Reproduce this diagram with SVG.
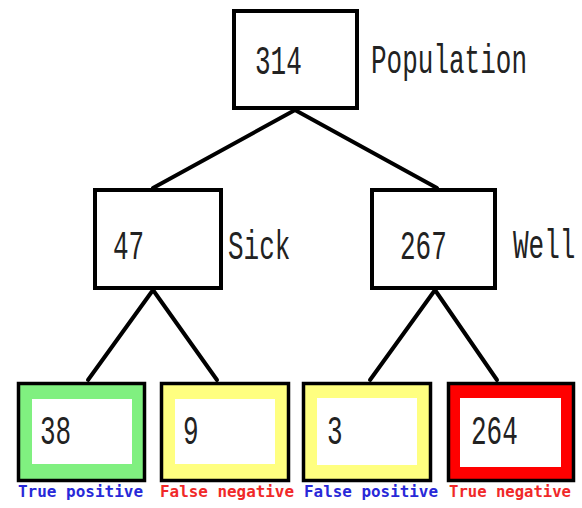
<svg xmlns="http://www.w3.org/2000/svg" width="582" height="508" viewBox="0 0 582 508">
<style>
.box{fill:#fff;stroke:#000;stroke-width:4}
.leaf{stroke:#000;stroke-width:3.5}
.inner{fill:#fff}
.num{font-family:"Liberation Mono","DejaVu Sans Mono",monospace;font-size:26px;fill:#222}
.lab{font-family:"DejaVu Sans Mono","Liberation Mono",monospace;font-size:15px;font-weight:bold}
.edge{stroke:#000;stroke-width:4;fill:none;stroke-linecap:round}
</style>
<rect width="582" height="508" fill="#fff"/>
<g id="connectors">
<line class="edge" x1="295" y1="110" x2="153" y2="188"/>
<line class="edge" x1="295" y1="110" x2="437" y2="188"/>
<line class="edge" x1="153" y1="290" x2="88" y2="380"/>
<line class="edge" x1="153" y1="290" x2="217" y2="380"/>
<line class="edge" x1="435" y1="290" x2="370" y2="380"/>
<line class="edge" x1="435" y1="290" x2="497" y2="380"/>
</g>
<g id="population">
<rect class="box" x="234" y="11" width="123" height="97"/>
<text class="num" transform="translate(255,74) scale(1,1.55)">314</text>
<text class="num" transform="translate(371,73) scale(1,1.55)">Population</text>
</g>
<g id="sick">
<rect class="box" x="95" y="190" width="126" height="98"/>
<text class="num" transform="translate(113,259) scale(1,1.55)">47</text>
<text class="num" transform="translate(228,259) scale(1,1.55)">Sick</text>
</g>
<g id="well">
<rect class="box" x="372" y="190" width="123" height="98"/>
<text class="num" transform="translate(400,259) scale(1,1.55)">267</text>
<text class="num" transform="translate(513,258) scale(1,1.55)">Well</text>
</g>
<g id="true-positive">
<rect class="leaf" x="18.5" y="383.5" width="126" height="97" fill="#80f080"/>
<rect class="inner" x="32" y="399" width="100" height="65"/>
<text class="num" transform="translate(40,444) scale(1,1.55)">38</text>
<text class="lab" x="18" y="497" fill="#2828d8" textLength="125" lengthAdjust="spacingAndGlyphs">True positive</text>
</g>
<g id="false-negative">
<rect class="leaf" x="161.5" y="383.5" width="127" height="97" fill="#ffff80"/>
<rect class="inner" x="175" y="399" width="100" height="65"/>
<text class="num" transform="translate(183,444) scale(1,1.55)">9</text>
<text class="lab" x="160" y="497" fill="#f02828" textLength="134" lengthAdjust="spacingAndGlyphs">False negative</text>
</g>
<g id="false-positive">
<rect class="leaf" x="303.5" y="383.5" width="127" height="97" fill="#ffff80"/>
<rect class="inner" x="317" y="398" width="100" height="67"/>
<text class="num" transform="translate(327,444) scale(1,1.55)">3</text>
<text class="lab" x="304" y="497" fill="#2828d8" textLength="134" lengthAdjust="spacingAndGlyphs">False positive</text>
</g>
<g id="true-negative">
<rect class="leaf" x="448.5" y="383.5" width="125" height="97" fill="#ff0000"/>
<rect class="inner" x="460" y="398" width="101" height="69"/>
<text class="num" transform="translate(471,444) scale(1,1.55)">264</text>
<text class="lab" x="449" y="497" fill="#f02828" textLength="122" lengthAdjust="spacingAndGlyphs">True negative</text>
</g>
</svg>
